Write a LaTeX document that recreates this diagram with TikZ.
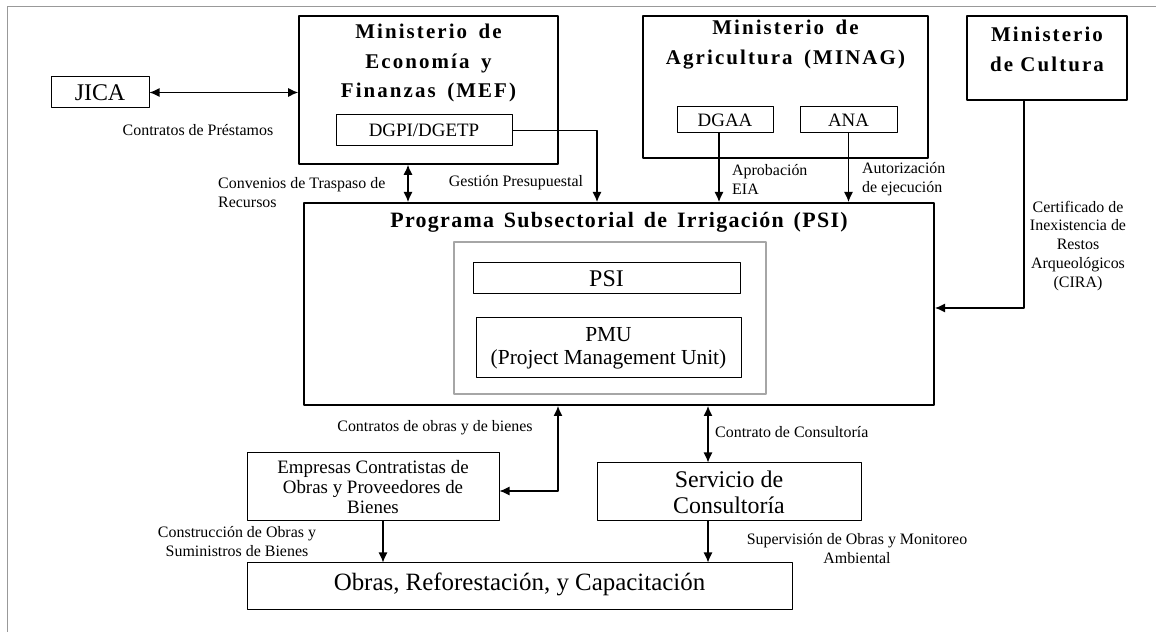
\documentclass[tikz,border=0pt]{standalone}
\usepackage{fontspec}
\setmainfont{Liberation Serif}
\newfontfamily\titlefont[LetterSpace=6]{Liberation Serif}
\newfontfamily\minfont[LetterSpace=10]{Liberation Serif}
\usetikzlibrary{arrows.meta}
\newcommand\wgap{\hspace{0.45em}}
\newcommand\mgap{\hspace{0.2em}}

\tikzset{
  bigbox/.style={draw, line width=1.6bp, rectangle, inner sep=0pt},
  smallbox/.style={draw, line width=1bp, rectangle, inner sep=0pt, align=center},
  lbl/.style={inner sep=0pt, align=center, font=\fontsize{16}{19}\selectfont},
  ttl/.style={inner sep=0pt, align=center, font=\fontsize{21}{30}\minfont\bfseries},
  link/.style={line width=1.2bp},
}

\begin{document}
\begin{tikzpicture}[>={Latex[length=10bp,width=9bp]},line join=bevel,]
    \useasboundingbox (0bp,0bp) rectangle (1156bp,632bp);
    \draw [gray!80, line width=1bp] (1160bp,625bp) -- (7bp,625bp) -- (7bp,-5bp);
    %%
    \node (jica) at (100bp,539.5bp) [smallbox,minimum width=98bp,minimum height=31bp,font=\fontsize{24}{26}\selectfont] {JICA};
    \node (mef) at (428.5bp,542bp) [bigbox,minimum width=259bp,minimum height=148bp] {};
    \node (meft) at (428.5bp,569bp) [ttl] {Ministerio \mgap de\\Economía \mgap y\\Finanzas \mgap (MEF)};
    \node (dgpi) at (424bp,501.5bp) [smallbox,minimum width=176bp,minimum height=31bp,font=\fontsize{19}{21}\selectfont] {DGPI/DGETP};
    \node (minag) at (785.5bp,545bp) [bigbox,minimum width=285bp,minimum height=142bp] {};
    \node (minagt) at (785.5bp,587bp) [ttl] {Ministerio \mgap de\\Agricultura \mgap (MINAG)};
    \node (dgaa) at (725bp,512bp) [smallbox,minimum width=96bp,minimum height=26bp,font=\fontsize{19}{21}\selectfont] {DGAA};
    \node (ana) at (848.5bp,512bp) [smallbox,minimum width=97bp,minimum height=26bp,font=\fontsize{19}{21}\selectfont] {ANA};
    \node (cult) at (1047bp,574bp) [bigbox,minimum width=160bp,minimum height=84bp] {};
    \node (cultt) at (1047bp,583bp) [ttl] {Ministerio\\de Cultura};
    %
    \node (psi) at (619bp,328bp) [bigbox,line width=2bp,minimum width=630bp,minimum height=202bp] {};
    \node (psit) at (619bp,410bp) [ttl,font=\fontsize{22}{26}\titlefont\bfseries] {Programa\wgap Subsectorial\wgap de\wgap Irrigación\wgap (PSI)};
    \node (unit) at (610bp,314bp) [draw=gray!70,line width=1.2bp,minimum width=312bp,minimum height=152bp,inner sep=0pt] {};
    \node (psiu) at (606.5bp,353.5bp) [smallbox,minimum width=267bp,minimum height=31bp,font=\fontsize{24}{26}\selectfont] {PSI};
    \node (pmu) at (608.5bp,284bp) [smallbox,minimum width=265bp,minimum height=60bp,font=\fontsize{21.5}{23}\selectfont] {PMU\\(Project Management Unit)};
    %
    \node (emp) at (373bp,145bp) [smallbox,minimum width=252bp,minimum height=68bp,font=\fontsize{19}{20}\selectfont] {Empresas Contratistas de\\Obras y Proveedores de\\Bienes};
    \node (serv) at (729bp,140bp) [smallbox,minimum width=264bp,minimum height=58bp,font=\fontsize{24}{26}\selectfont] {Servicio de\\Consultoría};
    \node (obras) at (519.5bp,45.5bp) [smallbox,minimum width=545bp,minimum height=47bp,font=\fontsize{25}{27}\selectfont,text depth=9bp] {Obras, Reforestación, y Capacitación};
    %
    \draw [<->,link] (jica.east) -- (jica.east -| mef.west);
    \draw [<->,link] ([xshift=-20.5bp]mef.south) -- ([xshift=-20.5bp]mef.south |- psi.north);
    \draw [->,link] (dgpi.east) -| ([xshift=-22bp]psi.north);
    \draw [->,link] ([xshift=-6bp]dgaa.south) -- ([xshift=-6bp]dgaa.south |- psi.north);
    \draw [->,link] (ana.south) -- (ana.south |- psi.north);
    \draw [->,link] ([xshift=-23bp]cult.south) |- ([yshift=-4bp]psi.east);
    \draw [<->,link] ([xshift=-61bp]psi.south) |- ([yshift=-4bp]emp.east);
    \draw [<->,link] ([xshift=-21bp]serv.north |- psi.south) -- ([xshift=-21bp]serv.north);
    \draw [->,link] ([xshift=10bp]emp.south) -- ([xshift=10bp]emp.south |- obras.north);
    \draw [->,link] ([xshift=-21bp]serv.south) -- ([xshift=-21bp]serv.south |- obras.north);
    %
    \node (l1) at (198bp,502bp) [lbl] {Contratos de Préstamos};
    \node (l2) at (218bp,439.5bp) [lbl,anchor=west,align=left] {Convenios de Traspaso de\\Recursos};
    \node (l3) at (516bp,449bp) [lbl] {Gestión Presupuestal};
    \node (l4) at (732bp,453bp) [lbl,anchor=west,align=left] {Aprobación\\EIA};
    \node (l5) at (862bp,453bp) [lbl,anchor=west,align=left] {Autorización\\de ejecución};
    \node (l6) at (1078bp,386bp) [lbl] {Certificado de\\Inexistencia de\\Restos\\Arqueológicos\\(CIRA)};
    \node (l7) at (435bp,204bp) [lbl] {Contratos de obras y de bienes};
    \node (l8) at (715bp,200bp) [lbl,anchor=west] {Contrato de Consultoría};
    \node (l9) at (237bp,90bp) [lbl] {Construcción de Obras y\\Suministros de Bienes};
    \node (l10) at (857bp,83bp) [lbl] {Supervisión de Obras y Monitoreo\\Ambiental};
    %
\end{tikzpicture}
\end{document}
